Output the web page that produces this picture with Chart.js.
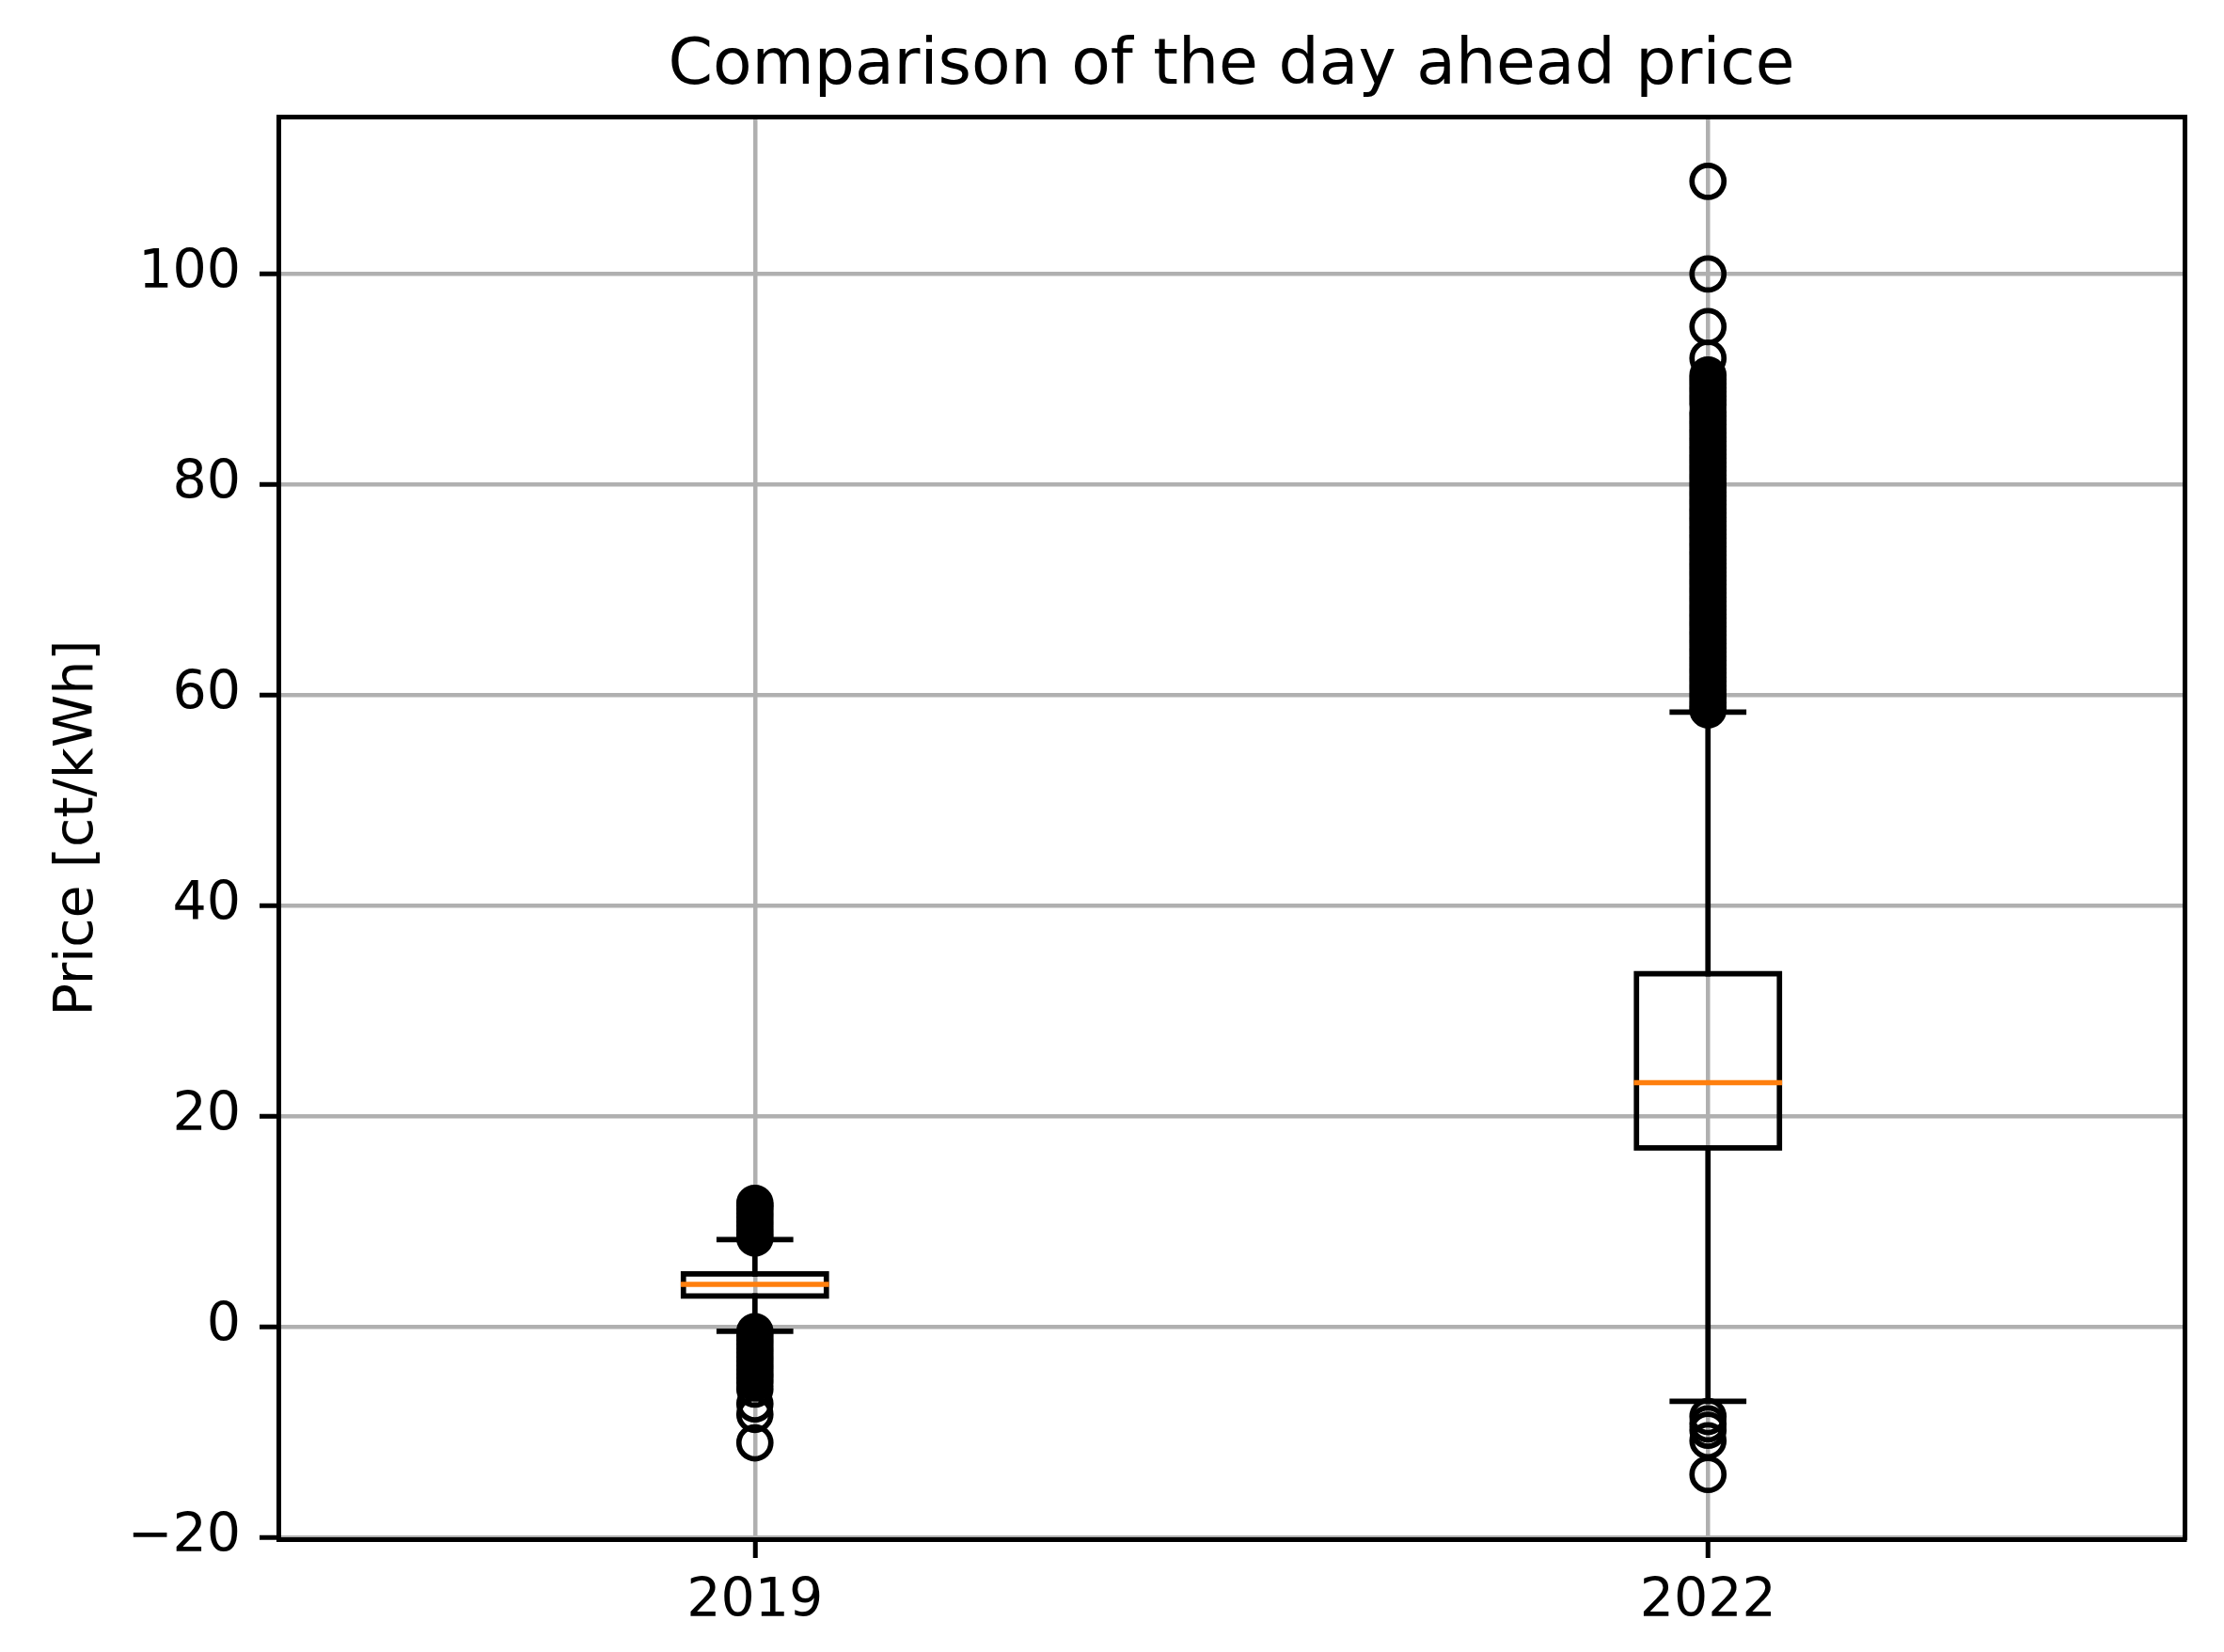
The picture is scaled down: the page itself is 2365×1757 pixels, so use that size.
<!DOCTYPE html>
<html>
<head>
<meta charset="utf-8">
<script src="https://cdn.jsdelivr.net/npm/chart.js@4.4.1/dist/chart.umd.min.js"></script>
<style>
body { margin: 0; background: #fff; }
</style>
</head>
<body>
<canvas id="myChart" width="2365" height="1757"></canvas>
<script>
const years = ["2019", "2022"]
const positions = [1, 2]
const q1 = [2.95, 17.0]
const medians = [4.05, 23.2]
const q3 = [5.05, 33.55]
const whiskerLow = [-0.4, -7.05]
const whiskerHigh = [8.3, 58.4]

const outliers2019 = [11.75, 11.5, 11.2, 10.8, 10.4, 10.0, 9.6, 9.2, 8.8, 8.45,
    -0.45, -0.85, -1.25, -1.65, -2.05, -2.45, -2.85, -3.25, -3.65, -4.05, -4.45, -4.85,
    -5.3, -5.9, -7.3, -8.3, -11.0]
const outliers2022 = [108.8, 100.0, 95.0, 92.0, 90.4, 90.0, 89.6, 89.2, 88.8, 88.4, 88.0, 87.6,
    86.9, 86.5, 86.1, 85.7, 85.3, 84.9, 84.5, 84.1, 83.7, 83.3, 82.9, 82.5, 82.1, 81.7, 81.3,
    80.9, 80.5, 80.1, 79.7, 79.3, 78.9, 78.5, 78.1, 77.7, 77.3, 76.9, 76.5, 76.1, 75.7, 75.3,
    74.9, 74.5, 74.1, 73.7, 73.3, 72.9, 72.5, 72.1, 71.7, 71.3, 70.9, 70.5, 70.1, 69.7, 69.3,
    68.9, 68.5, 68.1, 67.7, 67.3, 66.9, 66.5, 66.1, 65.7, 65.3, 64.9, 64.5, 64.1, 63.7, 63.3,
    62.9, 62.5, 62.1, 61.7, 61.3, 60.9, 60.5, 60.1, 59.7, 59.3, 58.9, 58.6,
    -8.5, -9.2, -9.8, -10.8, -14.0]

const yTicks = [-20, 0, 20, 40, 60, 80, 100]
const yMin = -20.15
const yMax = 114.95
const xMin = 0.5
const xMax = 2.5
const boxWidth = 0.15
const capWidth = 0.075

Chart.defaults.font.family = "DejaVu Sans"
Chart.defaults.color = "#000"

const lw = 5.7
const gap = { x: null, y: null }

function buildBoxes() {
    const pts = []
    positions.forEach((p, i) => {
        if (i > 0) pts.push(gap)
        pts.push({ x: p - boxWidth / 2, y: q1[i] }, { x: p + boxWidth / 2, y: q1[i] },
            { x: p + boxWidth / 2, y: q3[i] }, { x: p - boxWidth / 2, y: q3[i] },
            { x: p - boxWidth / 2, y: q1[i] })
    })
    return pts
}

function buildMedians() {
    const pts = []
    positions.forEach((p, i) => {
        if (i > 0) pts.push(gap)
        pts.push({ x: p - boxWidth / 2, y: medians[i] }, { x: p + boxWidth / 2, y: medians[i] })
    })
    return pts
}

function buildWhiskers() {
    const pts = []
    positions.forEach((p, i) => {
        if (i > 0) pts.push(gap)
        pts.push({ x: p, y: whiskerLow[i] }, { x: p, y: q1[i] }, gap,
            { x: p, y: q3[i] }, { x: p, y: whiskerHigh[i] })
    })
    return pts
}

function buildCaps() {
    const pts = []
    positions.forEach((p, i) => {
        if (i > 0) pts.push(gap)
        pts.push({ x: p - capWidth / 2, y: whiskerLow[i] }, { x: p + capWidth / 2, y: whiskerLow[i] }, gap,
            { x: p - capWidth / 2, y: whiskerHigh[i] }, { x: p + capWidth / 2, y: whiskerHigh[i] })
    })
    return pts
}

const fliers = outliers2019.map(v => ({ x: positions[0], y: v }))
    .concat(outliers2022.map(v => ({ x: positions[1], y: v })))

function lineSet(data, color) {
    return {
        type: "line",
        data: data,
        borderColor: color,
        borderWidth: lw,
        borderCapStyle: "square",
        borderJoinStyle: "miter",
        pointRadius: 0,
        fill: false,
        spanGaps: false,
        tension: 0
    }
}

const spine = { display: true, color: "#000", width: 5 }
const grid = { color: "#b0b0b0", lineWidth: 4.5, tickColor: "#000", tickWidth: 5, tickLength: 20 }

const ctx = document.getElementById("myChart").getContext("2d")
new Chart(ctx, {
    type: "scatter",
    data: {
        datasets: [
            {
                data: fliers,
                pointStyle: "circle",
                pointRadius: 17,
                pointBorderWidth: lw,
                pointBorderColor: "#000",
                pointBackgroundColor: "rgba(0,0,0,0)",
                showLine: false
            },
            lineSet(buildMedians(), "#ff7f0e"),
            lineSet(buildBoxes(), "#000"),
            lineSet(buildCaps(), "#000"),
            lineSet(buildWhiskers(), "#000")
        ]
    },
    options: {
        responsive: false,
        animation: false,
        devicePixelRatio: 1,
        events: [],
        layout: { padding: 0 },
        plugins: {
            legend: { display: false },
            tooltip: { enabled: false }
        },
        scales: {
            x: {
                type: "linear",
                position: "bottom",
                min: xMin,
                max: xMax,
                afterBuildTicks: s => { s.ticks = positions.map(v => ({ value: v })) },
                afterFit: s => { s.height = 120 },
                grid: grid,
                border: spine,
                ticks: {
                    callback: v => years[positions.indexOf(v)],
                    font: { size: 57, lineHeight: 1 },
                    padding: 19,
                    autoSkip: false,
                    maxRotation: 0
                }
            },
            y: {
                type: "linear",
                position: "left",
                min: yMin,
                max: yMax,
                afterBuildTicks: s => { s.ticks = yTicks.map(v => ({ value: v })) },
                afterFit: s => { s.width = 296 },
                grid: grid,
                border: spine,
                ticks: {
                    callback: v => v < 0 ? "\u2212" + Math.abs(v) : String(v),
                    font: { size: 57, lineHeight: 1 },
                    padding: 20
                },
                title: {
                    display: true,
                    text: "Price [ct/kWh]",
                    font: { size: 57, lineHeight: 1 },
                    padding: { top: 55, bottom: 0 }
                }
            },
            top: {
                type: "linear",
                position: "top",
                afterFit: s => { s.height = 124 },
                grid: { drawOnChartArea: false, drawTicks: false },
                border: spine,
                ticks: { display: false },
                title: {
                    display: true,
                    text: "Comparison of the day ahead price",
                    font: { size: 68, lineHeight: 1 },
                    padding: { top: 37, bottom: 0 }
                }
            },
            right: {
                type: "linear",
                position: "right",
                afterFit: s => { s.width = 42 },
                grid: { drawOnChartArea: false, drawTicks: false },
                border: spine,
                ticks: { display: false }
            }
        }
    }
})
</script>
</body>
</html>
